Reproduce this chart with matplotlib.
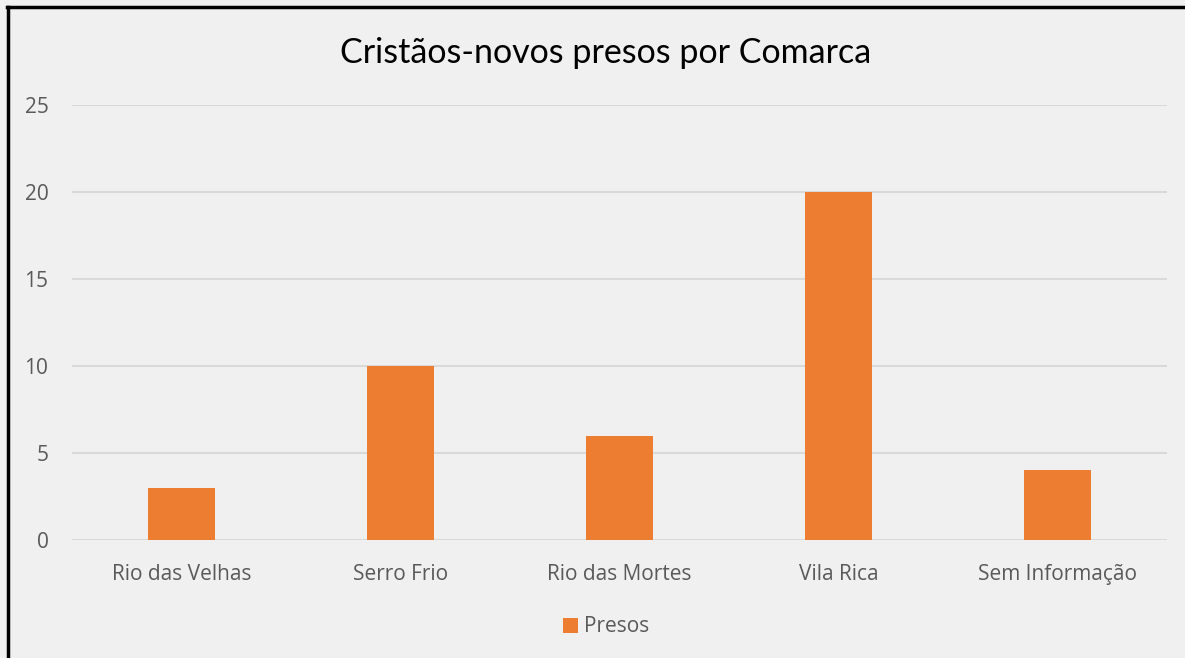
import matplotlib.pyplot as plt
from matplotlib.patches import Patch
from matplotlib.lines import Line2D

categories = ['Rio das Velhas', 'Serro Frio', 'Rio das Mortes', 'Vila Rica', 'Sem Informação']
presos = [3, 10, 6, 20, 4]
yticks = [0, 5, 10, 15, 20, 25]

bg = '#F0F0F0'
orange = '#ED7D31'
grid_col = '#D9D9D9'
text_col = '#595959'

fig = plt.figure(figsize=(11.85, 6.58), dpi=100, facecolor=bg)
ax = fig.add_axes([72 / 1185, 1 - 540 / 658, 1095 / 1185, 435 / 658])
ax.set_facecolor(bg)

x = range(len(categories))
ax.bar(x, presos, width=0.31, color=orange, zorder=3)

ax.set_xlim(-0.5, len(categories) - 0.5)
ax.set_ylim(0, 25)
ax.set_yticks(yticks)
ax.set_xticks(list(x))
ax.set_xticklabels(categories)
for lab in ax.get_xticklabels() + ax.get_yticklabels():
    lab.set_family('Open Sans')
    lab.set_fontsize(15)
    lab.set_color(text_col)
ax.tick_params(axis='both', length=0)
ax.tick_params(axis='y', pad=17)
ax.tick_params(axis='x', pad=17)

ax.grid(axis='y', color=grid_col, linewidth=1.5, zorder=0)
for s in ax.spines.values():
    s.set_visible(False)

# chart is cropped on the right, so title/legend sit right of the image centre
cx = 606 / 1185
fig.text(cx, 1 - 53 / 658, 'Cristãos-novos presos por Comarca', ha='center', va='center',
         family='Lato', fontsize=24.5, color='black')

handles = [Patch(facecolor=orange, edgecolor='none', label='Presos')]
leg = fig.legend(handles=handles, loc='center', bbox_to_anchor=(cx, 1 - 627 / 658),
                 frameon=False, handlelength=0.7, handleheight=0.7, handletextpad=0.3,
                 prop={'family': 'Open Sans', 'size': 15})
for t in leg.get_texts():
    t.set_color(text_col)

# border only visible on left and top (cropped screenshot)
fig.add_artist(Line2D([8 / 1185, 8 / 1185], [0, 1 - 7 / 658], color='black', linewidth=2.5,
                      transform=fig.transFigure))
fig.add_artist(Line2D([7 / 1185, 1], [1 - 7 / 658, 1 - 7 / 658], color='black', linewidth=2.5,
                      transform=fig.transFigure))

fig.savefig('out.png', dpi=100, facecolor=bg)
